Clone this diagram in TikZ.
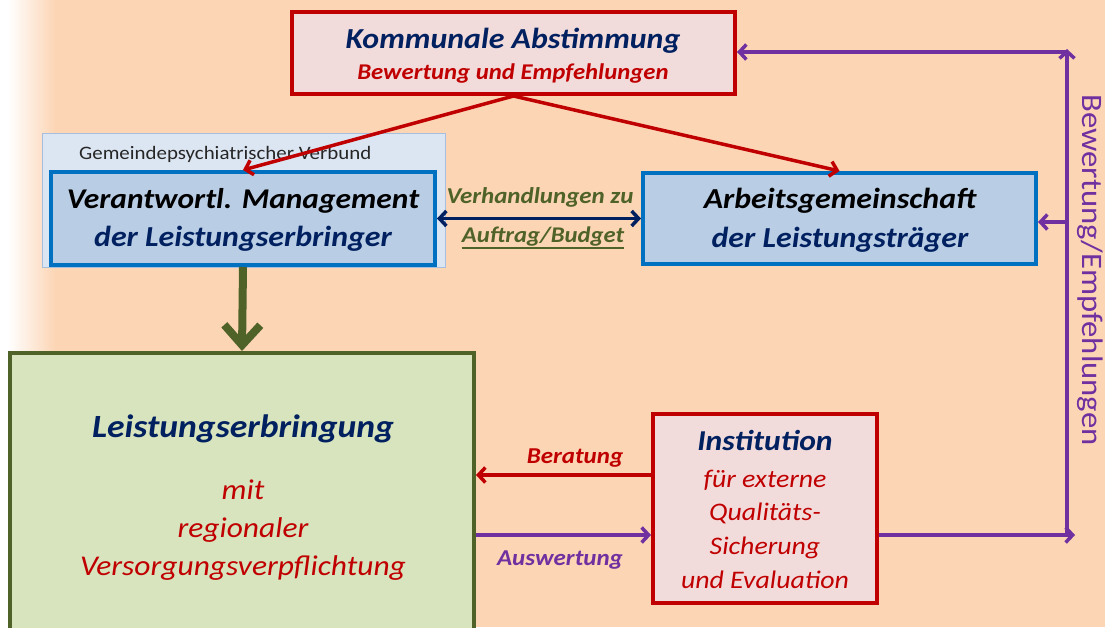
\documentclass[tikz,border=0pt]{standalone}
\usepackage{fontspec}
\setmainfont[FakeStretch=1.1]{Carlito}
\usetikzlibrary{arrows.meta,calc}
\definecolor{peach}{HTML}{FCD5B5}
\definecolor{dred}{HTML}{C00000}
\definecolor{pinkfill}{HTML}{F2DCDB}
\definecolor{navy}{HTML}{002060}
\definecolor{bblue}{HTML}{0070C0}
\definecolor{bfill}{HTML}{B9CDE5}
\definecolor{vfill}{HTML}{DCE6F2}
\definecolor{vline}{HTML}{A7BFDE}
\definecolor{dgreen}{HTML}{4F6228}
\definecolor{gfill}{HTML}{D7E4BD}
\definecolor{purp}{HTML}{7030A0}
\newcommand{\fs}[1]{\fontsize{#1}{#1}\selectfont}
\begin{document}
\begin{tikzpicture}[x=1pt,y=-1pt,
  redbox/.style={draw=dred, fill=pinkfill, line width=4pt, rectangle, inner sep=0pt},
  bluebox/.style={draw=bblue, fill=bfill, line width=4pt, rectangle, inner sep=0pt},
  txt/.style={anchor=base, inner sep=0pt},
  redarrow/.style={draw=dred, line width=3.5pt, -{Straight Barb[length=7pt,width=15pt]}, line cap=round},
  purparrow/.style={draw=purp, line width=3.5pt, -{Straight Barb[length=7pt,width=15pt]}},
]
\useasboundingbox (0,0) rectangle (1105,627);
\clip (0,0) rectangle (1105,627);
% background
\fill[peach] (0,0) rectangle (1105,627);
\shade[left color=white, right color=peach, shading angle=90] (8,0) rectangle (55,627);
\fill[white] (0,0) rectangle (8,627);

% boxes
\node[redbox, minimum width=443pt, minimum height=82pt] (komm) at (513.5,53) {};
\node[draw=vline, fill=vfill, line width=1pt, minimum width=403pt, minimum height=134pt, inner sep=0pt] (verbund) at (243.5,200) {};
\node[bluebox, minimum width=384pt, minimum height=93pt] (verant) at (243,218.5) {};
\node[bluebox, minimum width=393pt, minimum height=91pt] (arbeit) at (839.5,218.5) {};
\node[draw=dgreen, fill=gfill, line width=4pt, minimum width=464pt, minimum height=288pt, inner sep=0pt] (leist) at (242,497) {};
\node[redbox, minimum width=224pt, minimum height=189pt] (inst) at (765,508.5) {};

% texts
\node[txt, text=navy, font=\fs{29}\bfseries\itshape] (t1) at (513,48) {Kommunale Abstimmung};
\node[txt, text=dred, font=\fs{22.5}\bfseries\itshape] (t2) at (513,79) {Bewertung und Empfehlungen};
\node[txt, anchor=base west, text=black!85, font=\fs{19}] (t3) at (79,159) {Gemeindepsychiatrischer Verbund};
\node[txt, text=black, font=\fs{28.6}\bfseries\itshape] (t4) at (243,208) {Verantwortl. Management};
\node[txt, text=navy, font=\fs{29}\bfseries\itshape] (t5) at (243,246) {der Leistungserbringer};
\node[txt, text=black, font=\fs{29}\bfseries\itshape] (t6) at (840,208) {Arbeitsgemeinschaft};
\node[txt, text=navy, font=\fs{29}\bfseries\itshape] (t7) at (840,247) {der Leistungsträger};
\node[txt, text=dgreen, font=\fs{22.7}\bfseries\itshape] (t8) at (540,203) {Verhandlungen zu};
\node[txt, text=dgreen, font=\fs{22.4}\bfseries\itshape] (auf) at (543,242) {Auftrag/Budget};
\draw[dgreen, line width=1.5pt] ([yshift=-6pt]auf.base west) -- ([yshift=-6pt]auf.base east);
\node[txt, text=navy, font=\fs{32.4}\bfseries\itshape] (t9) at (243,437) {Leistungserbringung};
\node[txt, text=dred, font=\fs{28.6}\itshape] (t10) at (243,499) {mit};
\node[txt, text=dred, font=\fs{28.6}\itshape] (t11) at (243,537) {regionaler};
\node[txt, text=dred, font=\fs{28.6}\itshape] (t12) at (243,575) {Versorgungsverpflichtung};
\node[txt, text=navy, font=\fs{28.8}\bfseries\itshape] (t13) at (765,450) {Institution};
\node[txt, text=dred, font=\fs{25.3}\itshape] (t14) at (765,487) {für externe};
\node[txt, text=dred, font=\fs{25.3}\itshape] (t15) at (765,520) {Qualitäts-};
\node[txt, text=dred, font=\fs{25.3}\itshape] (t16) at (765,554) {Sicherung};
\node[txt, text=dred, font=\fs{25.3}\itshape] (t17) at (765,588) {und Evaluation};
\node[txt, text=dred, font=\fs{22.7}\bfseries\itshape] (t18) at (575,463) {Beratung};
\node[txt, text=purp, font=\fs{22.7}\bfseries\itshape] (t19) at (560,565) {Auswertung};
\node[text=purp, font=\fs{29.7}, rotate=-90, inner sep=0pt] (t20) at (1090,270) {Bewertung/Empfehlungen};

% connectors
\draw[redarrow] (komm.south) -- (verant.north);
\draw[redarrow] (komm.south) -- (arbeit.north);
\draw[navy, line width=3.5pt, {Straight Barb[length=7pt,width=15pt]}-{Straight Barb[length=7pt,width=15pt]}] (verant.east) -- (arbeit.west);
\draw[dgreen, line width=8pt, -{Straight Barb[length=20pt,width=36pt]}] (verant.south) -- (leist.north);
\draw[redarrow] ([yshift=33.5pt]inst.west) -- ([yshift=33.5pt]inst.west -| leist.east);
\draw[purparrow] ([yshift=-26.5pt]leist.east |- inst.west) -- ([yshift=-26.5pt]inst.west);
\coordinate (cb) at (1067,535);
\coordinate (ct) at (1067,52);
\coordinate (cm) at (1067,222);
\draw[purparrow] ([yshift=-26.5pt]inst.east) -- ([xshift=8pt]cb);
\draw[purparrow] (cb) -- ([yshift=3pt]ct);
\draw[purparrow] (ct) -- (ct -| komm.east);
\draw[purparrow] (cm) -- (cm -| arbeit.east);
\end{tikzpicture}
\end{document}
